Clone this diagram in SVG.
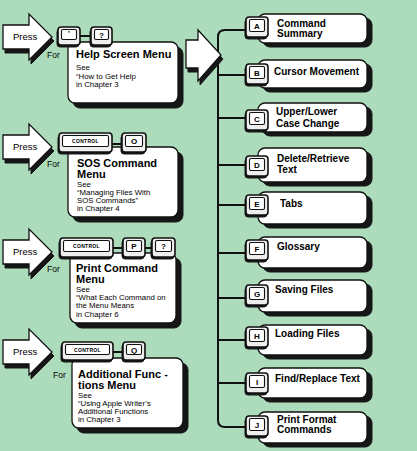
<svg xmlns="http://www.w3.org/2000/svg" width="417" height="451" viewBox="0 0 417 451">
<defs>
<style>
.bg{fill:#acdcbb}
.sh{fill:#161616;stroke:#161616;stroke-width:1}
.box{fill:#fff;stroke:#111;stroke-width:1.3}
.arrow{fill:#fff;stroke:#111;stroke-width:1.3;stroke-linejoin:miter}
.kbody{fill:#eeeeee;stroke:#111;stroke-width:1.6}
.kface{fill:#fff;stroke:#111;stroke-width:1.1}
.ln{fill:none;stroke:#111;stroke-width:2}
text{font-family:"Liberation Sans",Arial,Helvetica,sans-serif;fill:#000}
.t{font-size:11px;font-weight:bold}
.s{font-size:7.8px}
.lab{font-size:10px;font-weight:bold}
.press{font-size:9.5px}
.for{font-size:8.5px}
.k{font-size:8px;font-weight:bold;text-anchor:middle}
.kc{font-size:5px;font-weight:bold;text-anchor:middle;letter-spacing:0.3px}
</style>
<path id="parrow" d="M3 25 H29 V14 L52 37 L29 60 V49 H3 Z"/>
</defs>
<rect class="bg" x="0" y="0" width="417" height="451"/>

<g id="connectors">
  <line class="ln" x1="80" y1="36" x2="91" y2="36"/>
  <line class="ln" x1="112" y1="144" x2="122" y2="144"/>
  <line class="ln" x1="113" y1="248" x2="123" y2="248"/>
  <line class="ln" x1="145" y1="248" x2="152" y2="248"/>
  <line class="ln" x1="113" y1="352" x2="123" y2="352"/>
  <path class="ln" d="M246 30 H225 Q218 30 218 37 V420 Q218 427 225 427 H246"/>
  <line class="ln" x1="218" y1="75" x2="246" y2="75"/>
  <line class="ln" x1="218" y1="118" x2="246" y2="118"/>
  <line class="ln" x1="218" y1="165" x2="246" y2="165"/>
  <line class="ln" x1="218" y1="205" x2="246" y2="205"/>
  <line class="ln" x1="218" y1="253" x2="246" y2="253"/>
  <line class="ln" x1="218" y1="298" x2="246" y2="298"/>
  <line class="ln" x1="218" y1="340" x2="246" y2="340"/>
  <line class="ln" x1="218" y1="383" x2="246" y2="383"/>
</g>

<g id="big-arrow">
  <path class="sh" d="M188 44 H200 V34 L223 59 L200 85 V72 H188 Z"/>
  <path class="arrow" d="M186 40 H198 V30 L221 55 L198 81 V68 H186 Z"/>
</g>

<!-- Row 1 -->
<g id="press1">
  <use href="#parrow" class="sh" transform="translate(2,4)"/>
  <use href="#parrow" class="arrow"/>
  <text class="press" x="13" y="40">Press</text>
  <text class="for" x="47" y="58">For</text>
</g>
<g id="help-menu">
  <rect class="sh" x="73" y="47" width="110" height="61" rx="7"/>
  <rect class="box" x="68" y="42" width="110" height="61" rx="7"/>
  <text class="t" x="76" y="58">Help Screen Menu</text>
  <text class="s" x="76" y="70">See</text>
  <text class="s" x="76" y="78.5">“How to Get Help</text>
  <text class="s" x="76" y="87">in Chapter 3</text>
</g>
<g id="key-apple">
  <rect class="sh" x="57" y="29" width="22" height="18" rx="3"/>
  <rect class="kbody" x="58" y="27" width="22" height="18" rx="3"/>
  <rect class="kface" x="61.5" y="29.5" width="15" height="10" rx="1.5"/>
  <text class="k" x="69" y="36">'</text>
</g>
<g id="key-q1">
  <rect class="sh" x="90" y="29" width="21" height="18" rx="3"/>
  <rect class="kbody" x="91" y="27" width="21" height="18" rx="3"/>
  <rect class="kface" x="94.5" y="29.5" width="14" height="10" rx="1.5"/>
  <text class="k" x="101.5" y="37.5">?</text>
</g>

<!-- Row 2 -->
<g id="press2" transform="translate(0,110)">
  <use href="#parrow" class="sh" transform="translate(2,4)"/>
  <use href="#parrow" class="arrow"/>
  <text class="press" x="13" y="40">Press</text>
  <text class="for" x="47" y="57">For</text>
</g>
<g id="sos-menu">
  <rect class="sh" x="73" y="152" width="110" height="70" rx="7"/>
  <rect class="box" x="68" y="147" width="110" height="70" rx="7"/>
  <text class="t" x="77" y="167">SOS Command</text>
  <text class="t" x="77" y="178">Menu</text>
  <text class="s" x="77" y="186.5">See</text>
  <text class="s" x="77" y="194.5">“Managing Files With</text>
  <text class="s" x="77" y="202.5">SOS Commands”</text>
  <text class="s" x="77" y="211">in Chapter 4</text>
</g>
<g id="key-control2">
  <rect class="sh" x="58" y="135" width="53" height="19" rx="3"/>
  <rect class="kbody" x="59" y="133" width="53" height="19" rx="3"/>
  <rect class="kface" x="62.5" y="135.5" width="46" height="11" rx="1.5"/>
  <text class="kc" x="85.5" y="143">CONTROL</text>
</g>
<g id="key-o">
  <rect class="sh" x="121" y="135" width="24" height="19" rx="3"/>
  <rect class="kbody" x="122" y="133" width="24" height="19" rx="3"/>
  <rect class="kface" x="125.5" y="135.5" width="17" height="11" rx="1.5"/>
  <text class="k" x="134" y="144">O</text>
</g>

<!-- Row 3 -->
<g id="press3" transform="translate(0,215)">
  <use href="#parrow" class="sh" transform="translate(2,4)"/>
  <use href="#parrow" class="arrow"/>
  <text class="press" x="13" y="40">Press</text>
  <text class="for" x="47" y="57">For</text>
</g>
<g id="print-menu">
  <rect class="sh" x="75" y="258" width="106" height="70" rx="7"/>
  <rect class="box" x="70" y="253" width="106" height="70" rx="7"/>
  <text class="t" x="76" y="272">Print Command</text>
  <text class="t" x="76" y="283">Menu</text>
  <text class="s" x="76" y="291.5">See</text>
  <text class="s" x="76" y="299.5">“What Each Command on</text>
  <text class="s" x="76" y="308">the Menu Means</text>
  <text class="s" x="76" y="316.5">in Chapter 6</text>
</g>
<g id="key-control3">
  <rect class="sh" x="59" y="240" width="53" height="19" rx="3"/>
  <rect class="kbody" x="60" y="238" width="53" height="19" rx="3"/>
  <rect class="kface" x="63.5" y="240.5" width="46" height="11" rx="1.5"/>
  <text class="kc" x="86.5" y="248">CONTROL</text>
</g>
<g id="key-p">
  <rect class="sh" x="122" y="240" width="22" height="19" rx="3"/>
  <rect class="kbody" x="123" y="238" width="22" height="19" rx="3"/>
  <rect class="kface" x="126.5" y="240.5" width="15" height="11" rx="1.5"/>
  <text class="k" x="134" y="249">P</text>
</g>
<g id="key-q3">
  <rect class="sh" x="151" y="240" width="23" height="19" rx="3"/>
  <rect class="kbody" x="152" y="238" width="23" height="19" rx="3"/>
  <rect class="kface" x="155.5" y="240.5" width="16" height="11" rx="1.5"/>
  <text class="k" x="163.5" y="249">?</text>
</g>

<!-- Row 4 -->
<g id="press4" transform="translate(0,315)">
  <use href="#parrow" class="sh" transform="translate(2,4)"/>
  <use href="#parrow" class="arrow"/>
  <text class="press" x="13" y="40">Press</text>
  <text class="for" x="53" y="63">For</text>
</g>
<g id="additional-menu">
  <rect class="sh" x="77" y="363" width="111" height="70" rx="7"/>
  <rect class="box" x="72" y="358" width="111" height="70" rx="7"/>
  <text class="t" x="78" y="378">Additional Func -</text>
  <text class="t" x="78" y="389">tions Menu</text>
  <text class="s" x="78" y="398">See</text>
  <text class="s" x="78" y="406">“Using Apple Writer’s</text>
  <text class="s" x="78" y="414">Additional Functions</text>
  <text class="s" x="78" y="422">in Chapter 3</text>
</g>
<g id="key-control4">
  <rect class="sh" x="61" y="344" width="51" height="18" rx="3"/>
  <rect class="kbody" x="62" y="342" width="51" height="18" rx="3"/>
  <rect class="kface" x="65.5" y="344.5" width="44" height="10" rx="1.5"/>
  <text class="kc" x="87.5" y="351.5">CONTROL</text>
</g>
<g id="key-q">
  <rect class="sh" x="122" y="344" width="22" height="18" rx="3"/>
  <rect class="kbody" x="123" y="342" width="22" height="18" rx="3"/>
  <rect class="kface" x="126.5" y="344.5" width="15" height="10" rx="1.5"/>
  <text class="k" x="134" y="352.5">Q</text>
</g>

<!-- Right column -->
<g id="item-a">
  <rect class="sh" x="263" y="18" width="109" height="29" rx="7"/>
  <rect class="box" x="258" y="14" width="109" height="29" rx="7"/>
  <rect class="sh" x="245" y="19" width="22" height="20" rx="3"/>
  <rect class="kbody" x="246" y="17" width="22" height="20" rx="3"/>
  <rect class="kface" x="249.5" y="19.5" width="15" height="12" rx="1.5"/>
  <text class="k" x="257" y="28.5">A</text>
  <text class="lab" x="277" y="27">Command</text>
  <text class="lab" x="277" y="37">Summary</text>
</g>
<g id="item-b">
  <rect class="sh" x="263" y="64" width="109" height="28" rx="7"/>
  <rect class="box" x="258" y="60" width="109" height="28" rx="7"/>
  <rect class="sh" x="245" y="66" width="22" height="20" rx="3"/>
  <rect class="kbody" x="246" y="64" width="22" height="20" rx="3"/>
  <rect class="kface" x="249.5" y="66.5" width="15" height="12" rx="1.5"/>
  <text class="k" x="257" y="75.5">B</text>
  <text class="lab" x="274" y="75">Cursor Movement</text>
</g>
<g id="item-c">
  <rect class="sh" x="263" y="107" width="109" height="29" rx="7"/>
  <rect class="box" x="258" y="103" width="109" height="29" rx="7"/>
  <rect class="sh" x="245" y="112" width="22" height="20" rx="3"/>
  <rect class="kbody" x="246" y="110" width="22" height="20" rx="3"/>
  <rect class="kface" x="249.5" y="112.5" width="15" height="12" rx="1.5"/>
  <text class="k" x="257" y="121.5">C</text>
  <text class="lab" x="276" y="115">Upper/Lower</text>
  <text class="lab" x="276" y="127">Case Change</text>
</g>
<g id="item-d">
  <rect class="sh" x="263" y="152" width="109" height="34" rx="7"/>
  <rect class="box" x="258" y="148" width="109" height="34" rx="7"/>
  <rect class="sh" x="245" y="158" width="22" height="20" rx="3"/>
  <rect class="kbody" x="246" y="156" width="22" height="20" rx="3"/>
  <rect class="kface" x="249.5" y="158.5" width="15" height="12" rx="1.5"/>
  <text class="k" x="257" y="167.5">D</text>
  <text class="lab" x="277" y="162">Delete/Retrieve</text>
  <text class="lab" x="277" y="173">Text</text>
</g>
<g id="item-e">
  <rect class="sh" x="263" y="196" width="109" height="32" rx="7"/>
  <rect class="box" x="258" y="192" width="109" height="32" rx="7"/>
  <rect class="sh" x="245" y="197" width="22" height="20" rx="3"/>
  <rect class="kbody" x="246" y="195" width="22" height="20" rx="3"/>
  <rect class="kface" x="249.5" y="197.5" width="15" height="12" rx="1.5"/>
  <text class="k" x="257" y="206.5">E</text>
  <text class="lab" x="280" y="207">Tabs</text>
</g>
<g id="item-f">
  <rect class="sh" x="263" y="241" width="109" height="31" rx="7"/>
  <rect class="box" x="258" y="237" width="109" height="31" rx="7"/>
  <rect class="sh" x="245" y="242" width="22" height="20" rx="3"/>
  <rect class="kbody" x="246" y="240" width="22" height="20" rx="3"/>
  <rect class="kface" x="249.5" y="242.5" width="15" height="12" rx="1.5"/>
  <text class="k" x="257" y="251.5">F</text>
  <text class="lab" x="277" y="250">Glossary</text>
</g>
<g id="item-g">
  <rect class="sh" x="263" y="284" width="109" height="32" rx="7"/>
  <rect class="box" x="258" y="280" width="109" height="32" rx="7"/>
  <rect class="sh" x="245" y="287" width="22" height="20" rx="3"/>
  <rect class="kbody" x="246" y="285" width="22" height="20" rx="3"/>
  <rect class="kface" x="249.5" y="287.5" width="15" height="12" rx="1.5"/>
  <text class="k" x="257" y="296.5">G</text>
  <text class="lab" x="275" y="293">Saving Files</text>
</g>
<g id="item-h">
  <rect class="sh" x="263" y="329" width="109" height="30" rx="7"/>
  <rect class="box" x="258" y="325" width="109" height="30" rx="7"/>
  <rect class="sh" x="245" y="329" width="22" height="20" rx="3"/>
  <rect class="kbody" x="246" y="327" width="22" height="20" rx="3"/>
  <rect class="kface" x="249.5" y="329.5" width="15" height="12" rx="1.5"/>
  <text class="k" x="257" y="338.5">H</text>
  <text class="lab" x="275" y="337">Loading Files</text>
</g>
<g id="item-i">
  <rect class="sh" x="263" y="372" width="109" height="30" rx="7"/>
  <rect class="box" x="258" y="368" width="109" height="30" rx="7"/>
  <rect class="sh" x="245" y="375" width="22" height="20" rx="3"/>
  <rect class="kbody" x="246" y="373" width="22" height="20" rx="3"/>
  <rect class="kface" x="249.5" y="375.5" width="15" height="12" rx="1.5"/>
  <text class="k" x="257" y="384.5">I</text>
  <text class="lab" x="275" y="382">Find/Replace Text</text>
</g>
<g id="item-j">
  <rect class="sh" x="263" y="416" width="109" height="31" rx="7"/>
  <rect class="box" x="258" y="412" width="109" height="31" rx="7"/>
  <rect class="sh" x="245" y="418" width="22" height="20" rx="3"/>
  <rect class="kbody" x="246" y="416" width="22" height="20" rx="3"/>
  <rect class="kface" x="249.5" y="418.5" width="15" height="12" rx="1.5"/>
  <text class="k" x="257" y="427.5">J</text>
  <text class="lab" x="277" y="423">Print Format</text>
  <text class="lab" x="277" y="433">Commands</text>
</g>
</svg>
